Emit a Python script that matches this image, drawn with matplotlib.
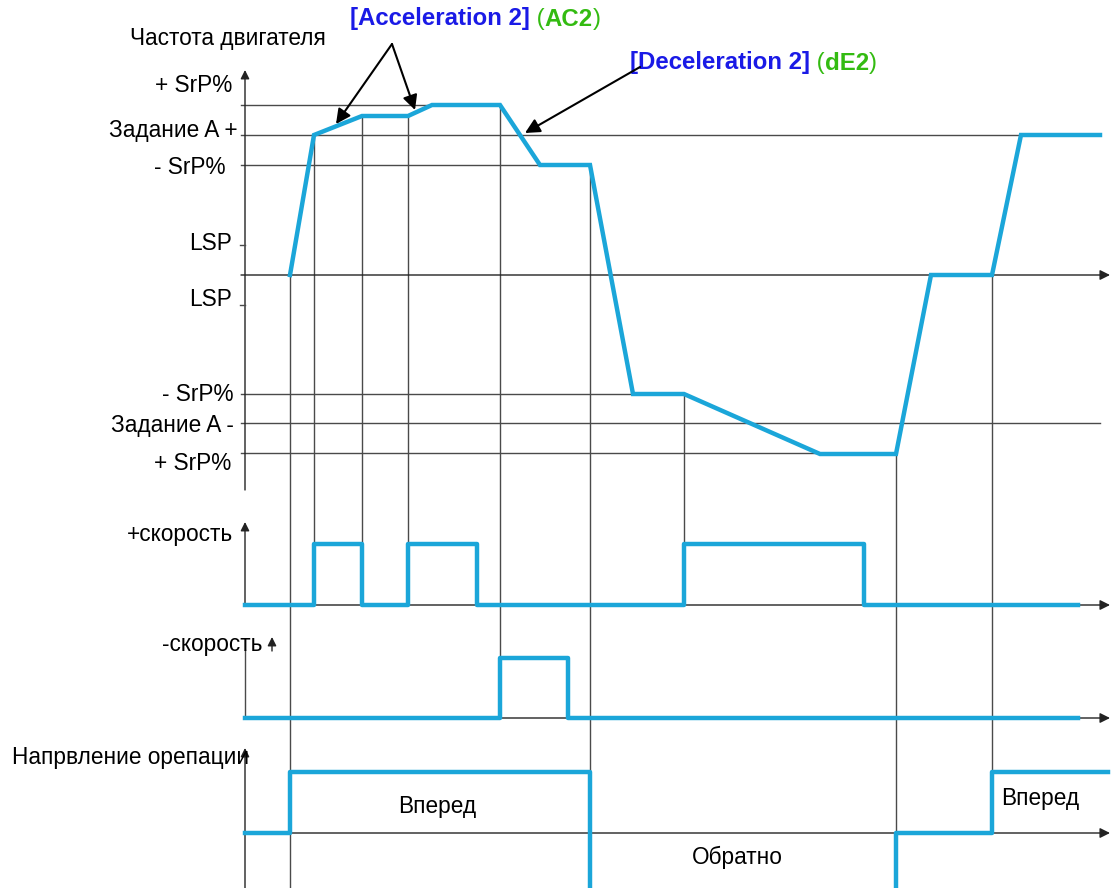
import numpy as np
import matplotlib
matplotlib.use("Agg")
import matplotlib.pyplot as plt

plt.rcParams['font.family'] = ['Liberation Sans', 'DejaVu Sans']

BLUE = '#1ba6d9'
GRID = '#4a4a4a'
PBLUE = '#1a1ae6'
PGREEN = '#33bb11'
FS = 16.3

# motor frequency profile (time, level)
speed_t = [290, 314, 362, 408, 432, 500, 540, 590, 633, 684, 820, 896, 931, 992, 1021, 1100]
speed_y = [275, 135, 116, 116, 105, 105, 165, 165, 394, 394, 454, 454, 275, 275, 135, 135]

# reference levels on the frequency axis: (label, level, line end)
levels = [
    ('+ SrP%', 105, 500),
    ('Задание A +', 135, 1100),
    ('- SrP%', 165, 590),
    ('- SrP%', 394, 684),
    ('Задание A -', 423, 1100),
    ('+ SrP%', 453, 820),
]
level_label_x = [232, 238, 225, 234, 234, 231]
level_label_y = [85, 131, 168, 394, 425, 463]
lsp_ticks = [245, 305]

# logic signals: edge times and state after each edge
plus_edges = [245, 314, 362, 408, 477, 684, 864, 1078]
plus_state = [0, 1, 0, 1, 0, 1, 0, 0]
minus_edges = [245, 500, 568, 1078]
minus_state = [0, 1, 0, 0]
dir_edges = [245, 290, 590, 896, 992, 1108]
dir_state = [0, 1, -1, 0, 1, 1]

# panel baselines and pulse heights
plus_base, plus_h = 605, 61
minus_base, minus_h = 718, 60
dir_base, dir_h = 833, 61

# vertical guides: time, top, bottom
guides = [
    (290, 275, 888), (314, 135, 544), (362, 116, 544), (408, 116, 544),
    (500, 105, 658), (590, 165, 888), (684, 394, 544), (896, 454, 888),
    (992, 275, 772),
]

fig = plt.figure(figsize=(11.15, 8.88), dpi=100)
ax = fig.add_axes([0, 0, 1, 1])
ax.set_xlim(0, 1115)
ax.set_ylim(888, 0)
ax.axis('off')

lw_thin = 1.0
for t, y0, y1 in guides:
    ax.plot([t, t], [y0, y1], color=GRID, lw=lw_thin, zorder=1)

for (lab, lev, xend), lx, ly in zip(levels, level_label_x, level_label_y):
    ax.plot([241, xend], [lev, lev], color=GRID, lw=lw_thin, zorder=1)
    ax.text(lx, ly, lab, ha='right', va='center', fontsize=FS)

for ly in lsp_ticks:
    ax.plot([240, 245], [ly, ly], color=GRID, lw=lw_thin)
ax.text(232, 243, 'LSP', ha='right', va='center', fontsize=FS)
ax.text(232, 299, 'LSP', ha='right', va='center', fontsize=FS)


def arrow_line(x0, y0, x1, y1, scale=13):
    ax.annotate('', xy=(x1, y1), xytext=(x0, y0),
                arrowprops=dict(arrowstyle='-|>', color='#222222', lw=lw_thin,
                                mutation_scale=scale, shrinkA=0, shrinkB=0),
                zorder=1)


# axes with arrows
arrow_line(245, 490, 245, 70)
arrow_line(241, 275, 1110, 275, 15)
arrow_line(245, plus_base, 245, 522)
ax.plot([245, 245], [650, minus_base], color=GRID, lw=lw_thin)
arrow_line(272, 651, 272, 637)
arrow_line(245, 888, 245, 748)
for base in (plus_base, minus_base, dir_base):
    arrow_line(245, base, 1110, base, 15)

# blue traces
kw = dict(color=BLUE, lw=3.2, zorder=3)
ax.plot(speed_t, speed_y, solid_joinstyle='miter', **kw)
ax.step(plus_edges, plus_base - plus_h * np.array(plus_state), where='post', **kw)
ax.step(minus_edges, minus_base - minus_h * np.array(minus_state), where='post', **kw)
ax.step(dir_edges, dir_base - dir_h * np.array(dir_state), where='post', **kw)

# panel titles
ax.text(130, 39, 'Частота двигателя', ha='left', va='center', fontsize=FS)
ax.text(233, 534, '+скорость', ha='right', va='center', fontsize=FS)
ax.text(262, 644, '-скорость', ha='right', va='center', fontsize=FS)
ax.text(12, 757, 'Напрвление орепации', ha='left', va='center', fontsize=FS)
ax.text(437, 806, 'Вперед', ha='center', va='center', fontsize=FS)
ax.text(737, 857, 'Обратно', ha='center', va='center', fontsize=FS)
ax.text(1040, 798, 'Вперед', ha='center', va='center', fontsize=FS)


def callout(x, y, name, code):
    # "[Name] (code)" with bold blue name and green code
    fs = 17.3
    t = ax.text(x, y, name, ha='left', va='center', fontsize=fs,
                fontweight='bold', color=PBLUE)
    pieces = [(' (', 'normal'), (code, 'bold'), (')', 'normal')]
    for s, w in pieces:
        t = ax.annotate(s, xy=(1, 0), xycoords=t, va='bottom', ha='left',
                        fontsize=fs, fontweight=w, color=PGREEN)


callout(350, 19, '[Acceleration 2]', 'AC2')
callout(630, 63, '[Deceleration 2]', 'dE2')

head = dict(arrowstyle='-|>', color='black', lw=1.5, mutation_scale=22,
            shrinkA=0, shrinkB=0)
for tip in [(336, 124), (415, 110)]:
    ax.annotate('', xy=tip, xytext=(392, 44), arrowprops=head)
ax.annotate('', xy=(525, 133), xytext=(640, 67), arrowprops=head)

fig.savefig('out.png', dpi=100)
